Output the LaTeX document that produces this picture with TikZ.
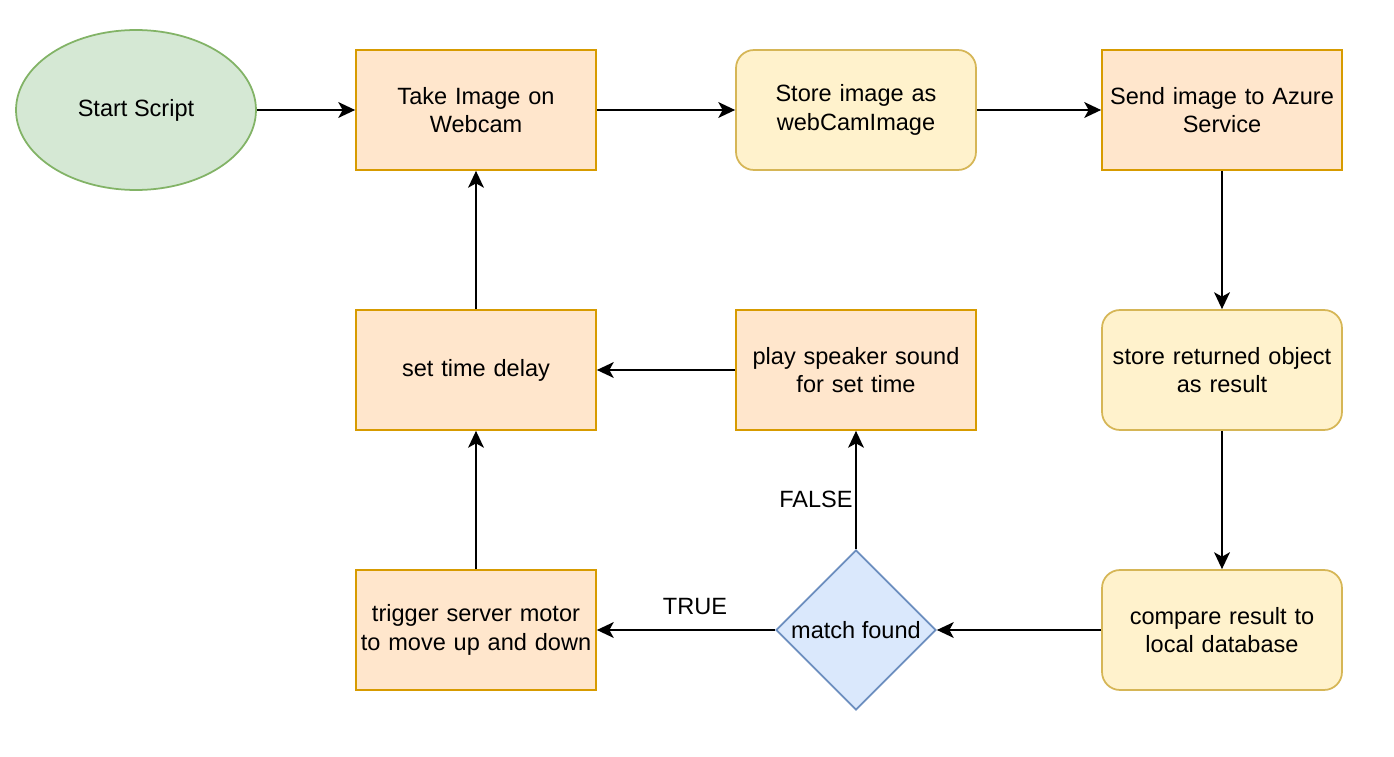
\documentclass[tikz,border=0pt]{standalone}
\usepackage{fontspec}
\setmainfont{Liberation Sans}
\usetikzlibrary{shapes.geometric,arrows.meta}
\definecolor{ofill}{HTML}{FFE6CC}\definecolor{oline}{HTML}{D79B00}
\definecolor{yfill}{HTML}{FFF2CC}\definecolor{yline}{HTML}{D6B656}
\definecolor{gfill}{HTML}{D5E8D4}\definecolor{gline}{HTML}{82B366}
\definecolor{bfill}{HTML}{DAE8FC}\definecolor{bline}{HTML}{6C8EBF}
\tikzset{
  base/.style={align=center,font=\fontsize{13.4pt}{16.4pt}\selectfont,text width=4.8cm,inner sep=0pt,line width=1pt},
  obox/.style={base,rectangle,draw=oline,fill=ofill,minimum width=4.8cm,minimum height=2.4cm},
  ybox/.style={base,rectangle,rounded corners=0.36cm,draw=yline,fill=yfill,minimum width=4.8cm,minimum height=2.4cm},
  startshape/.style={base,ellipse,draw=gline,fill=gfill,minimum width=4.8cm,minimum height=3.2cm,text width=},
  decision/.style={base,diamond,draw=bline,fill=bfill,minimum width=3.2cm,minimum height=3.2cm,text width=,inner sep=0pt,aspect=1},
  conn/.style={line width=1.1pt,-{Stealth[length=9.6pt,width=9pt,inset=2.5pt]}},
  lbl/.style={font=\fontsize{13.4pt}{16.4pt}\selectfont,inner sep=0pt}
}
\begin{document}
\begin{tikzpicture}[x=0.02cm,y=-0.02cm]
\useasboundingbox[fill=white] (0,0) rectangle (1394,757);
\node[startshape] (start) at (136,110) {Start Script};
\node[obox] (take) at (476,110) {Take Image on\\Webcam};
\node[ybox] (store) at (856,110) {Store image as\\webCamImage};
\node[obox] (send) at (1222,110) {Send image to Azure\\Service};
\node[ybox] (ret) at (1222,370) {store returned object\\as result};
\node[ybox] (cmp) at (1222,630) {compare result to\\local database};
\node[decision] (match) at (856,630) {match found};
\node[obox] (trig) at (476,630) {trigger server motor\\to move up and down};
\node[obox] (delay) at (476,370) {set time delay};
\node[obox] (play) at (856,370) {play speaker sound\\for set time};
\draw[conn] (start) -- (take);
\draw[conn] (take) -- (store);
\draw[conn] (store) -- (send);
\draw[conn] (send) -- (ret);
\draw[conn] (ret) -- (cmp);
\draw[conn] (cmp) -- (match);
\draw[conn] (match) -- (trig);
\draw[conn] (match) -- (play);
\draw[conn] (play) -- (delay);
\draw[conn] (trig) -- (delay);
\draw[conn] (delay) -- (take);
\node[lbl] (tl) at (695,607) {TRUE};
\node[lbl] (fl) at (816,499) {FALSE};
\end{tikzpicture}
\end{document}
